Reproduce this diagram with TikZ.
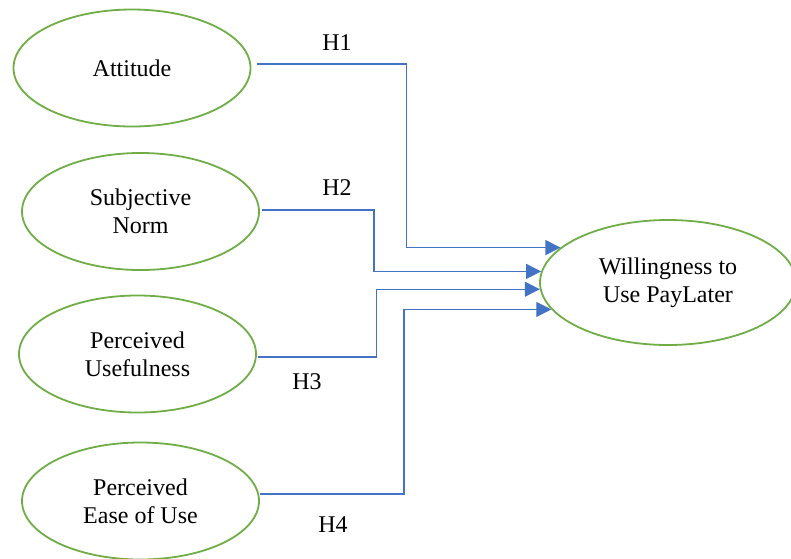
\documentclass[tikz,border=0pt]{standalone}
\usepackage{fontspec}
\setmainfont{Liberation Serif}
\usetikzlibrary{shapes.geometric,arrows.meta}
\definecolor{ovalgreen}{RGB}{112,173,71}
\definecolor{arrowblue}{RGB}{68,114,196}
\begin{document}
\begin{tikzpicture}[x=0.5pt,y=-0.5pt,
  construct/.style={ellipse, draw=ovalgreen, line width=0.9pt, align=center, inner sep=0pt,
    minimum width=118.5pt, minimum height=58.5pt, font=\fontsize{12}{14}\selectfont},
  hyp/.style={draw=arrowblue, line width=0.6pt, -{Triangle[length=7.5pt,width=7.5pt]}},
  lbl/.style={font=\fontsize{12}{14}\selectfont}]
\useasboundingbox (0,0) rectangle (791,558);
\node[construct] (att) at (132,68) {Attitude};
\node[construct] (sn) at (140.5,211.5) {Subjective\\Norm};
\node[construct] (pu) at (137.5,354) {Perceived\\Usefulness};
\node[construct] (peou) at (140.5,501) {Perceived\\Ease of Use};
\node[construct, minimum width=128pt, minimum height=62.5pt] (wpl) at (668,282.5) {Willingness to\\Use PayLater};
\coordinate (b1) at (406.5,0);
\coordinate (b2) at (374,0);
\coordinate (b3) at (376.5,0);
\coordinate (b4) at (404,0);
\draw[hyp] ([xshift=2.75pt,yshift=2pt]att.east) -| (b1 |- wpl.162.3) -- (wpl.162.3);
\draw[hyp] ([xshift=1.25pt,yshift=0.75pt]sn.east) -| (b2 |- wpl.175.4) -- (wpl.175.4);
\draw[hyp] ([xshift=0.75pt,yshift=-1.5pt]pu.east) -| (b3 |- wpl.183.1) -- (wpl.183.1);
\draw[hyp] ([xshift=0.25pt,yshift=3.5pt]peou.east) -| (b4 |- wpl.193.9) -- (wpl.193.9);
\node[lbl] (h1) at (337,43) {H1};
\node[lbl] (h2) at (337,188) {H2};
\node[lbl] (h3) at (307,382) {H3};
\node[lbl] (h4) at (333,525) {H4};
\end{tikzpicture}
\end{document}
